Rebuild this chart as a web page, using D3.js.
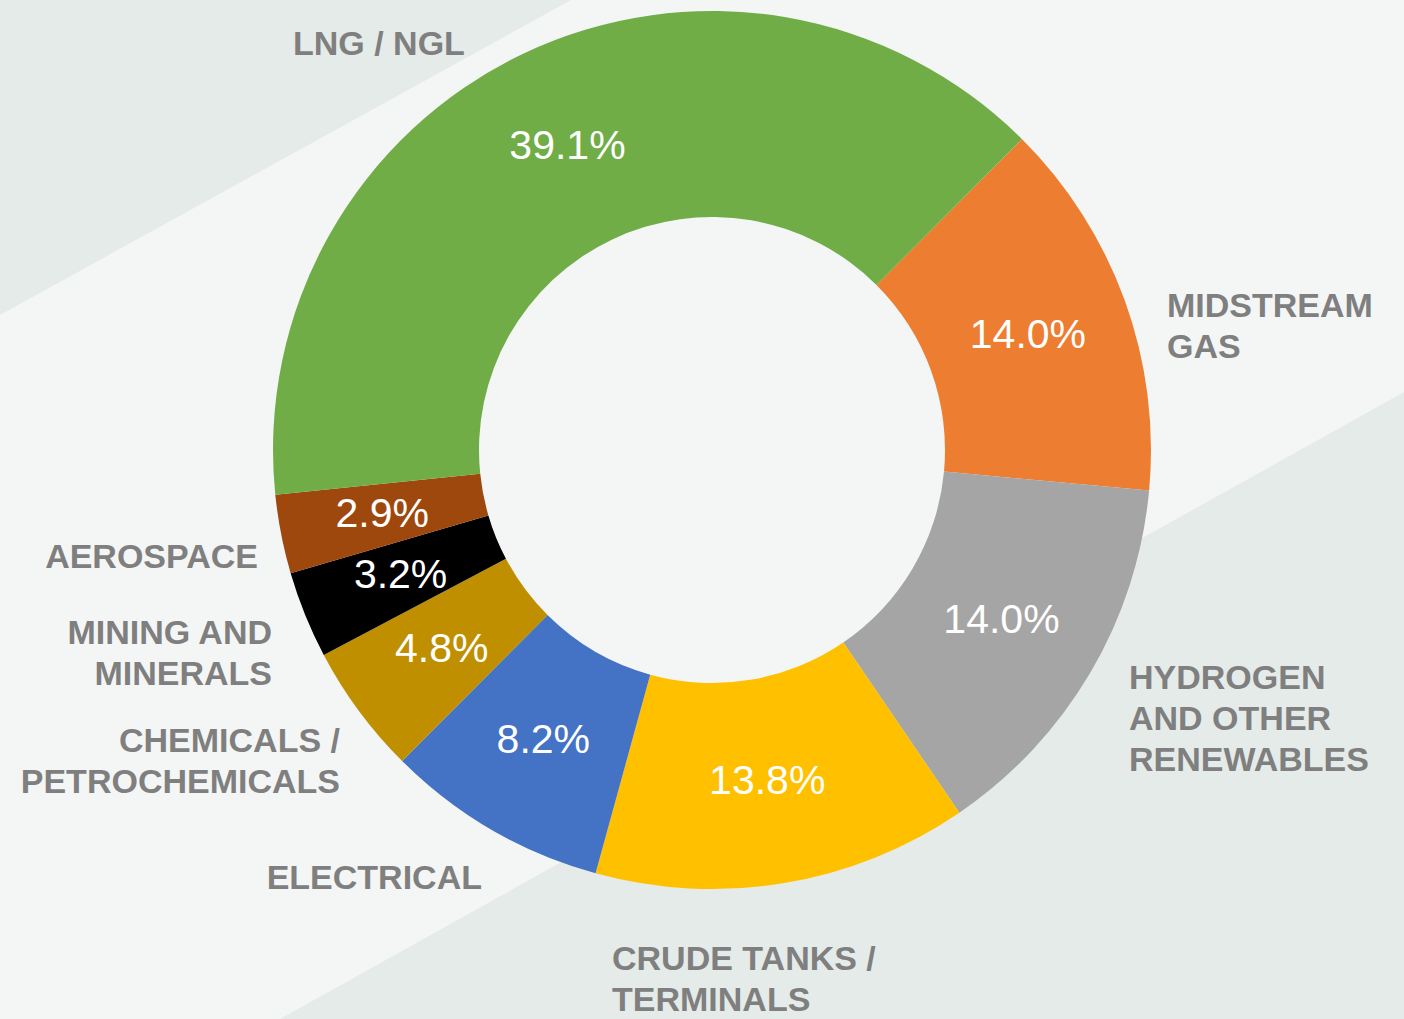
<!DOCTYPE html>
<html>
<head>
<meta charset="utf-8">
<script src="https://cdn.jsdelivr.net/npm/d3@7"></script>
<style>
  html, body { margin: 0; padding: 0; background: #f4f6f5; }
  svg { display: block; }
  .cat-label { font-family: "Liberation Sans", Arial, sans-serif; font-weight: bold; font-size: 34px; fill: #7f7f7f; }
  .pct-label { font-family: "Liberation Sans", Arial, sans-serif; font-size: 41px; fill: #ffffff; }
</style>
</head>
<body>
<svg id="chart" width="1404" height="1019"></svg>
<script>
// Slice data, clockwise from the LNG / Midstream boundary
const categories = [
  ["MIDSTREAM", "GAS"],
  ["HYDROGEN", "AND OTHER", "RENEWABLES"],
  ["CRUDE TANKS /", "TERMINALS"],
  ["ELECTRICAL"],
  ["CHEMICALS /", "PETROCHEMICALS"],
  ["MINING AND", "MINERALS"],
  ["AEROSPACE"],
  ["LNG / NGL"]
];
const shares = [14.0, 14.0, 13.8, 8.2, 4.8, 3.2, 2.9, 39.1];
const sliceColors = ["#ed7d31", "#a5a5a5", "#ffc000", "#4472c4", "#bf8f00", "#000000", "#9e480e", "#70ad47"];

// where each category label sits (first line baseline) and how it's aligned
const labelLayout = [
  { x: 1167, y: 317, anchor: "start" },
  { x: 1129, y: 689, anchor: "start" },
  { x: 612,  y: 970, anchor: "start" },
  { x: 482,  y: 889, anchor: "end" },
  { x: 340,  y: 752, anchor: "end" },
  { x: 272,  y: 644, anchor: "end" },
  { x: 258,  y: 568, anchor: "end" },
  { x: 293,  y: 55,  anchor: "start" }
];

const width = 1404, height = 1019;
const cx = 712, cy = 450;
const outerR = 439, innerR = 233;
const lineHeight = 41;

const svg = d3.select("#chart");

// background: light base with two darker diagonal bands
svg.append("rect").attr("width", width).attr("height", height).attr("fill", "#f4f6f5");
svg.append("polygon")
  .attr("points", [[0, 0], [571, 0], [0, 315]].join(" "))
  .attr("fill", "#e5ebe8");
svg.append("polygon")
  .attr("points", [[1404, 392], [1404, 1019], [280, 1019]].join(" "))
  .attr("fill", "#e5ebe8");

const startAngle = 44.9 * Math.PI / 180;
const pie = d3.pie()
  .sort(null)
  .value(d => d)
  .startAngle(startAngle)
  .endAngle(startAngle + 2 * Math.PI);

const arc = d3.arc().innerRadius(innerR).outerRadius(outerR);

const arcs = pie(shares);

const g = svg.append("g").attr("transform", `translate(${cx},${cy})`);

g.selectAll("path.slice")
  .data(arcs)
  .enter()
  .append("path")
  .attr("class", "slice")
  .attr("d", arc)
  .attr("fill", (d, i) => sliceColors[i]);

// percentage labels at the ring centroid
g.selectAll("text.pct-label")
  .data(arcs)
  .enter()
  .append("text")
  .attr("class", "pct-label")
  .attr("text-anchor", "middle")
  .attr("x", d => arc.centroid(d)[0])
  .attr("y", d => arc.centroid(d)[1])
  .attr("dy", "0.3em")
  .text(d => d.data.toFixed(1) + "%");

// category labels outside the ring
const labels = svg.selectAll("text.cat-label")
  .data(categories)
  .enter()
  .append("text")
  .attr("class", "cat-label")
  .attr("text-anchor", (d, i) => labelLayout[i].anchor)
  .attr("x", (d, i) => labelLayout[i].x)
  .attr("y", (d, i) => labelLayout[i].y);

labels.each(function(lines, i) {
  const t = d3.select(this);
  lines.forEach((line, j) => {
    t.append("tspan")
      .attr("x", labelLayout[i].x)
      .attr("y", labelLayout[i].y + j * lineHeight)
      .text(line);
  });
});
</script>
</body>
</html>
